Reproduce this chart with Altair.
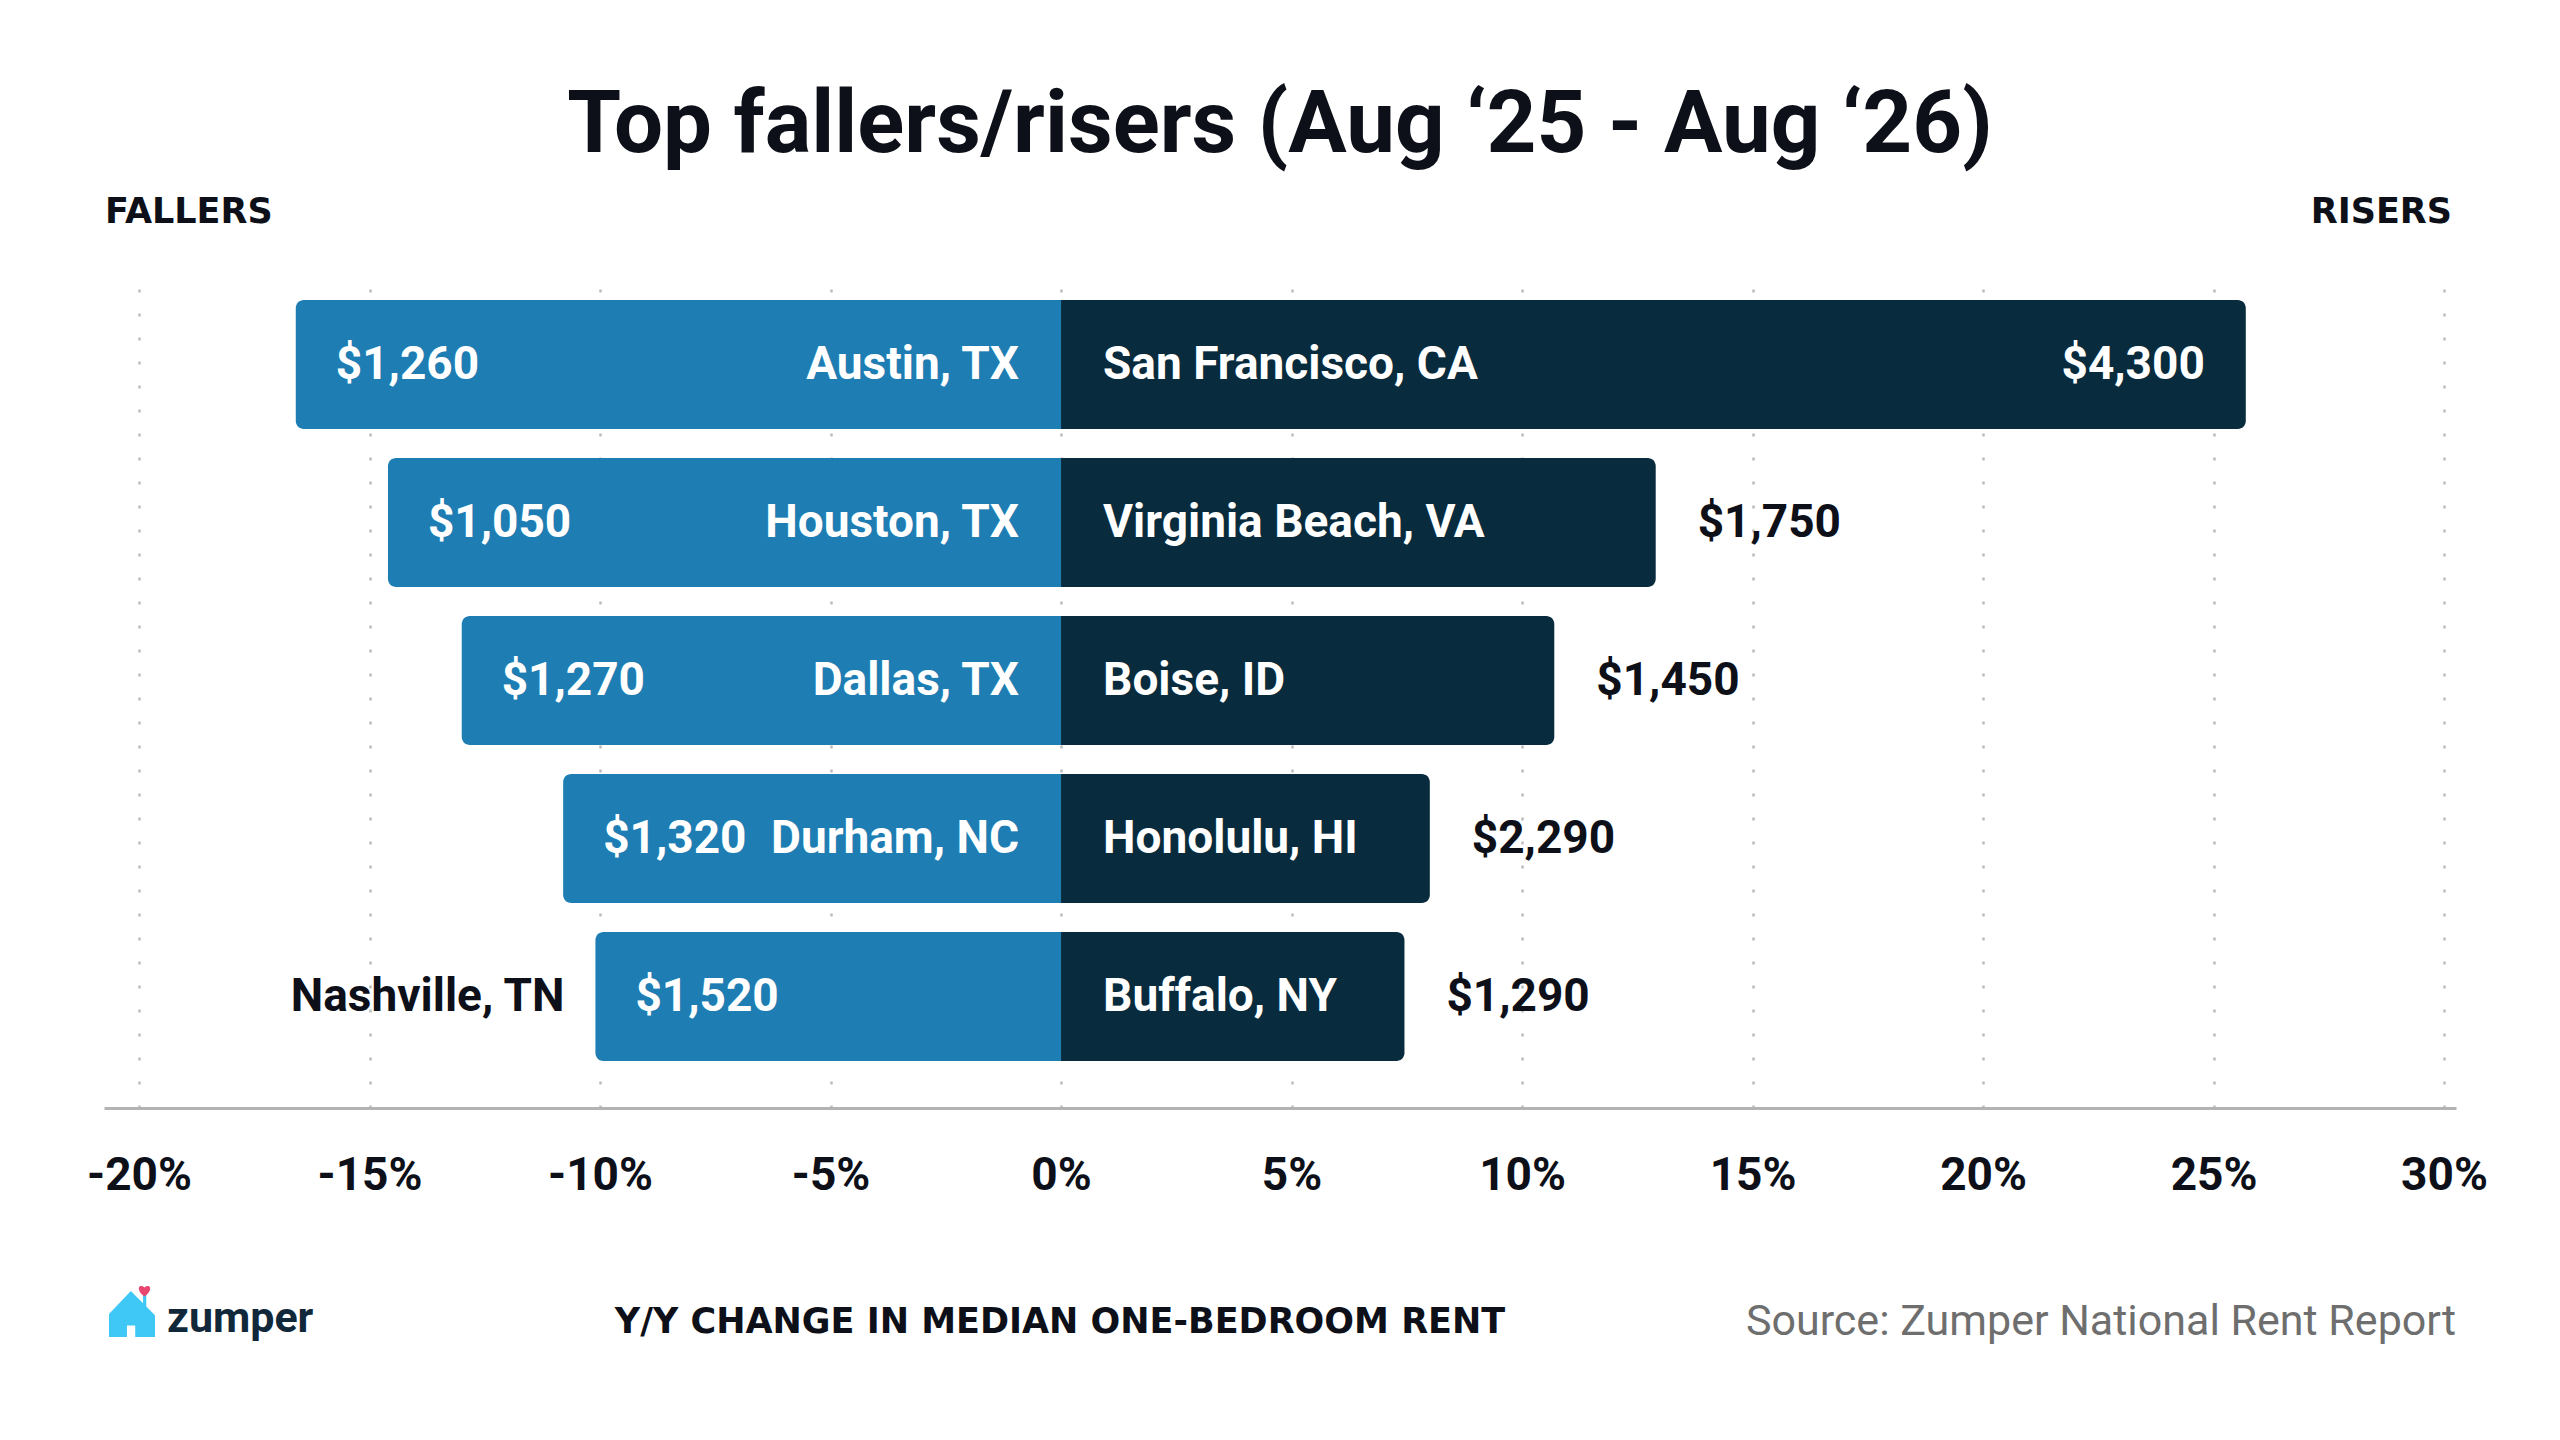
import altair as alt
import pandas as pd

# ---------------- data ----------------
rank = [1, 2, 3, 4, 5]
faller_cities = ["Austin, TX", "Houston, TX", "Dallas, TX", "Durham, NC", "Nashville, TN"]
faller_change = [-16.6, -14.6, -13.0, -10.8, -10.1]
faller_rent = [1260, 1050, 1270, 1320, 1520]
riser_cities = ["San Francisco, CA", "Virginia Beach, VA", "Boise, ID", "Honolulu, HI", "Buffalo, NY"]
riser_change = [25.7, 12.9, 10.7, 8.0, 7.45]
riser_rent = [4300, 1750, 1450, 2290, 1290]
x_ticks = [-20, -15, -10, -5, 0, 5, 10, 15, 20, 25, 30]

title_text = ["Top fallers/risers (Aug \u201825 - Aug \u201826)"]
left_label = ["FALLERS"]
right_label = ["RISERS"]
axis_title_text = ["Y/Y CHANGE IN MEDIAN ONE-BEDROOM RENT"]
source_text = ["Source: Zumper National Rent Report"]
brand_text = ["zumper"]

fallers = pd.DataFrame({"rank": rank, "city": faller_cities,
                        "change": faller_change, "rent": faller_rent})
fallers["name_inside"] = fallers["change"].abs() >= 10.5
risers = pd.DataFrame({"rank": rank, "city": riser_cities,
                       "change": riser_change, "rent": riser_rent})
risers["rent_inside"] = risers["change"] >= 20

# ---------------- styling ----------------
W, H = 2352, 822
FALL_C = "#1E7DB3"
RISE_C = "#082B3D"
DARK = "#0d1018"
FONT = "Roboto"
CAPS_FONT = "DejaVu Sans"

xscale = alt.Scale(domain=[-20.76, 30.26], nice=False, zero=False)
yscale = alt.Scale(paddingInner=0.1835, paddingOuter=0.193, align=0.23)
Y = alt.Y("rank:O", scale=yscale, axis=None)

x_axis = alt.Axis(
    values=x_ticks, labelExpr="datum.value + '%'", title=None,
    grid=True, gridDash=[3, 21], gridColor="#bdbdbd", gridWidth=2.5,
    ticks=False, tickSize=0, domain=True, domainColor="#b3b3b3", domainWidth=3,
    labelPadding=81, labelBaseline="alphabetic", labelFont=FONT,
    labelFontWeight="bold", labelFontSize=46, labelColor=DARK,
    labelFlush=False, labelOverlap=False,
)

fall_bars = alt.Chart(fallers).mark_bar(
    color=FALL_C, cornerRadiusTopLeft=8, cornerRadiusBottomLeft=8
).encode(x=alt.X("change:Q", scale=xscale, axis=x_axis), x2=alt.datum(0), y=Y)

rise_bars = alt.Chart(risers).mark_bar(
    color=RISE_C, cornerRadiusTopRight=8, cornerRadiusBottomRight=8
).encode(x=alt.X("change:Q", scale=xscale), x2=alt.datum(0), y=Y)


def txt(df, align, dx, color, xenc, text_field, fmt=None, filt=None):
    c = alt.Chart(df)
    if filt is not None:
        c = c.transform_filter(filt)
    t = alt.Text(text_field, format=fmt) if fmt else alt.Text(text_field)
    return c.mark_text(
        align=align, baseline="middle", dx=dx, font=FONT, fontWeight="bold",
        fontSize=46, color=color
    ).encode(x=xenc, y=Y, text=t)


xq = alt.X("change:Q", scale=xscale)
x0 = alt.datum(0)

fall_rent_lbl = txt(fallers, "left", 40, "white", xq, "rent:Q", "$,.0f")
fall_name_in = txt(fallers, "right", -42, "white", x0, "city:N",
                   filt="datum.name_inside")
fall_name_out = txt(fallers, "right", -31, DARK, xq, "city:N",
                    filt="!datum.name_inside")
rise_name = txt(risers, "left", 42, "white", x0, "city:N")
rise_rent_in = txt(risers, "right", -41, "white", xq, "rent:Q", "$,.0f",
                   filt="datum.rent_inside")
rise_rent_out = txt(risers, "left", 42, DARK, xq, "rent:Q", "$,.0f",
                    filt="!datum.rent_inside")


def static_text(values, x, y, align, font, size, weight, color):
    return alt.Chart(pd.DataFrame({"t": values})).mark_text(
        align=align, baseline="alphabetic", font=font, fontSize=size,
        fontWeight=weight, color=color
    ).encode(x=alt.value(x), y=alt.value(y), text="t:N")


title = static_text(title_text, 1176, -134, "center", FONT, 87, "bold", DARK)
fallers_hdr = static_text(left_label, 1, -63, "left", CAPS_FONT, 35, "bold", DARK)
risers_hdr = static_text(right_label, W - 4, -63, "right", CAPS_FONT, 35, "bold", DARK)
axis_title = static_text(axis_title_text, 956, 1047, "center", CAPS_FONT, 35, "bold", DARK)
source = static_text(source_text, W, 1049, "right", FONT, 43, "normal", "#6e6e6e")
brand = static_text(brand_text, 63, 1046, "left", FONT, 43, "bold", "#10283a")

house_path = ("M-1,0 L-0.05,-1 L0.48,-0.47 L0.48,-0.85 L0.62,-0.85 L0.62,-0.33 "
              "L1,0.05 L1,1 L0.14,1 L0.14,0.5 L-0.22,0.5 L-0.22,1 L-1,1 Z")
heart_path = "M0,1 C-1.3,0.1 -1,-1.1 0,-0.4 C1,-1.1 1.3,0.1 0,1 Z"

house = alt.Chart(pd.DataFrame({"t": brand_text})).mark_point(
    shape=house_path, filled=True, color="#3FC8F5", opacity=1, size=2116, strokeWidth=0
).encode(x=alt.value(28), y=alt.value(1028))
heart = alt.Chart(pd.DataFrame({"t": brand_text})).mark_point(
    shape=heart_path, filled=True, color="#E8456F", opacity=1, size=170, strokeWidth=0
).encode(x=alt.value(40.5), y=alt.value(1004))

chart = alt.layer(
    fall_bars, rise_bars,
    fall_rent_lbl, fall_name_in, fall_name_out,
    rise_name, rise_rent_in, rise_rent_out,
    title, fallers_hdr, risers_hdr, axis_title, source, brand, house, heart,
).properties(
    width=W, height=H,
    autosize=alt.AutoSizeParams(type="none"),
    padding={"left": 96, "top": 278, "right": 88, "bottom": 310},
    background="white",
).configure_view(stroke=None)

chart.save("out.html", embed_options={"renderer": "svg", "actions": False})
